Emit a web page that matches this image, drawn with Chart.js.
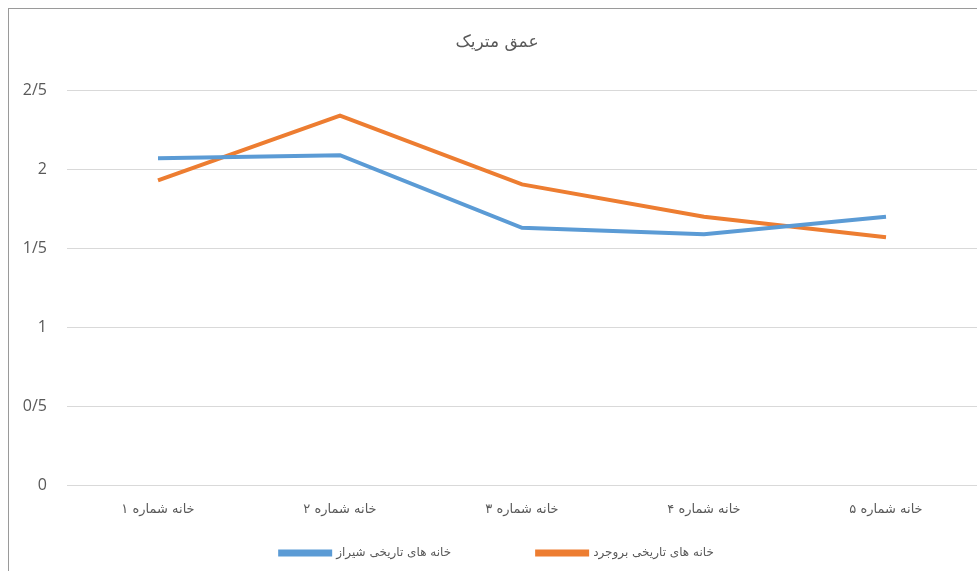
<!DOCTYPE html>
<html>
<head>
<meta charset="utf-8">
<script src="https://cdn.jsdelivr.net/npm/chart.js@4/dist/chart.umd.min.js"></script>
<style>
  html, body { margin: 0; padding: 0; background: #fff; overflow: hidden; }
  #wrap { position: relative; width: 977px; height: 571px; }
  #frame { position: absolute; left: 8px; top: 8px; right: 0; bottom: 0;
           border-left: 1px solid #9a9a9a; border-top: 1px solid #9a9a9a; pointer-events: none; }
  canvas { position: absolute; left: 0; top: 0; }
</style>
</head>
<body>
<div id="wrap">
  <canvas id="chart" width="977" height="571"></canvas>
  <div id="frame"></div>
</div>
<script>
const houses = ["خانه شماره ۱", "خانه شماره ۲", "خانه شماره ۳", "خانه شماره ۴", "خانه شماره ۵"];
const shiraz = [2.07, 2.09, 1.63, 1.59, 1.70];
const borujerd = [1.93, 2.34, 1.905, 1.70, 1.57];
const seriesNames = ["خانه های تاریخی شیراز", "خانه های تاریخی بروجرد"];
const chartTitle = "عمق متریک";

const fa = "'DejaVu Sans', 'Noto Sans', sans-serif";
const gap = "\u2003".repeat(6);

let ctx = document.getElementById("chart").getContext("2d");

let lineChart = new Chart(ctx, {
  type: "line",
  data: {
    labels: houses,
    datasets: [
      {
        label: seriesNames[0],
        data: shiraz,
        borderColor: "#5B9BD5",
        backgroundColor: "#5B9BD5",
        borderWidth: 4,
        pointRadius: 0,
        tension: 0
      },
      {
        label: seriesNames[1],
        data: borujerd,
        borderColor: "#ED7D31",
        backgroundColor: "#ED7D31",
        borderWidth: 4,
        pointRadius: 0,
        tension: 0
      }
    ]
  },
  options: {
    responsive: false,
    animation: false,
    layout: {
      padding: { left: 17, right: 0, top: 0, bottom: 2 }
    },
    plugins: {
      title: {
        display: true,
        text: chartTitle,
        color: "#595959",
        font: { family: fa, size: 17, weight: "normal" },
        padding: { top: 32, bottom: 38 }
      },
      legend: {
        position: "bottom",
        labels: {
          color: "#595959",
          font: { family: fa, size: 12 },
          boxWidth: 50,
          boxHeight: 3,
          padding: 14,
          // widen the space between the two legend items
          generateLabels: chart => {
            const items = Chart.defaults.plugins.legend.labels.generateLabels(chart);
            items[0].text = items[0].text + gap;
            return items;
          }
        }
      },
      tooltip: { enabled: false }
    },
    scales: {
      x: {
        offset: true,
        grid: { display: false, drawTicks: false },
        border: { display: true, color: "#d9d9d9", width: 1 },
        ticks: {
          color: "#595959",
          font: { family: fa, size: 13 },
          padding: 16
        }
      },
      y: {
        min: 0,
        max: 2.5,
        afterFit: scale => { scale.width = 50; },
        ticks: {
          stepSize: 0.5,
          color: "#595959",
          font: { family: "'Open Sans', 'DejaVu Sans', sans-serif", size: 16 },
          padding: 20,
          callback: v => v.toString().replace(".", "/")
        },
        grid: { color: "#d9d9d9", drawTicks: false },
        border: { display: false }
      }
    }
  }
});
</script>
</body>
</html>
